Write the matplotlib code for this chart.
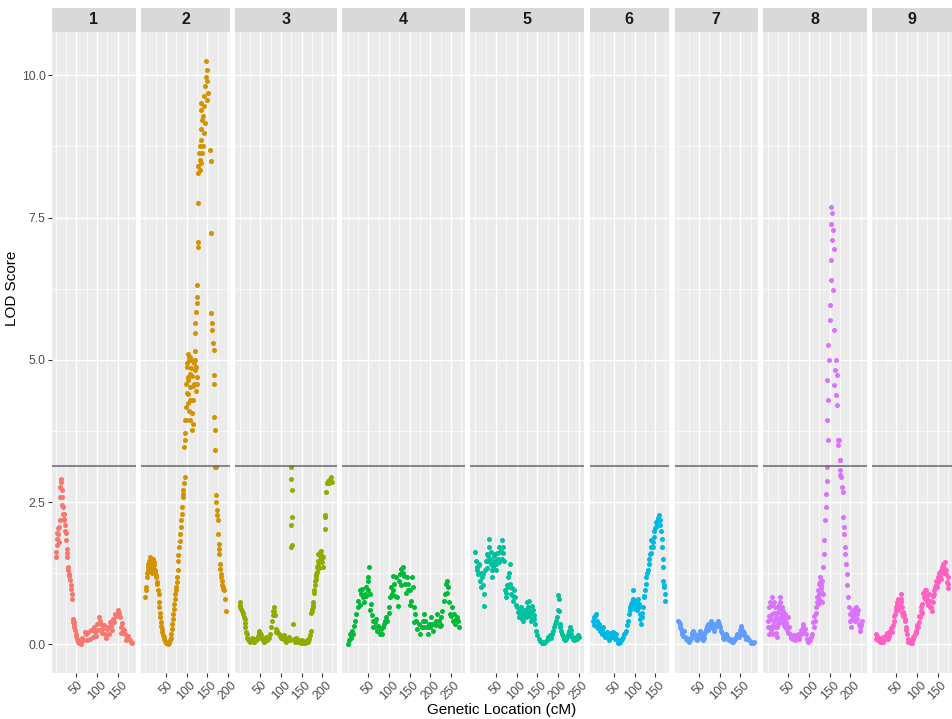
import matplotlib
matplotlib.use('Agg')
import matplotlib.pyplot as plt
from matplotlib.patches import Rectangle

# LOD scan per chromosome as (cM, LOD) pairs
chr1 = [(0, 1.53), (1, 1.62), (2, 1.74), (3, 1.95), (4, 1.86), (5, 2.05), (6, 1.94), (7, 2.06), (8, 1.80), (9, 2.18),
        (10, 2.59), (11, 2.77), (12, 2.91), (13, 2.85), (14, 2.71), (15, 2.59), (16, 2.45), (17, 2.41), (18, 2.30),
        (19, 2.20), (20, 2.18), (21, 2.30), (22, 2.10), (23, 2.00), (24, 1.95), (25, 1.83), (26, 1.68), (27, 1.60),
        (28, 1.53), (29, 1.36), (30, 1.30), (32, 1.24), (33, 1.20), (34, 1.13), (36, 1.05), (37, 0.98), (39, 0.88),
        (40, 0.80), (41, 0.45), (42, 0.40), (43, 0.39), (44, 0.35), (45, 0.30), (47, 0.25), (48, 0.18), (50, 0.15),
        (51, 0.10), (53, 0.05), (55, 0.02), (58, 0.05), (61, 0.01), (64, 0.12), (67, 0.07), (70, 0.22), (73, 0.18),
        (76, 0.08), (79, 0.21), (83, 0.10), (86, 0.25), (89, 0.13), (92, 0.30), (94, 0.21), (97, 0.15), (101, 0.36),
        (103, 0.25), (105, 0.48), (107, 0.42), (109, 0.36), (111, 0.20), (113, 0.27), (116, 0.35), (118, 0.18),
        (121, 0.12), (123, 0.27), (126, 0.30), (129, 0.18), (131, 0.40), (134, 0.33), (137, 0.25), (139, 0.45),
        (142, 0.40), (144, 0.54), (147, 0.50), (150, 0.60), (152, 0.55), (155, 0.48), (157, 0.20), (158, 0.30),
        (161, 0.38), (163, 0.27), (165, 0.25), (167, 0.18), (170, 0.08), (172, 0.13), (176, 0.15), (179, 0.07),
        (182, 0.05), (185, 0.02)]

chr2 = [(0, 0.83), (1, 0.95), (2, 1.01), (3, 1.25), (4, 1.18), (5, 1.36), (6, 1.30), (7, 1.42), (8, 1.47), (9, 1.38),
        (10, 1.53), (11, 1.30), (12, 1.45), (13, 1.42), (14, 1.35), (16, 1.33), (17, 1.25), (18, 1.50), (20, 1.45),
        (21, 1.39), (22, 1.28), (24, 1.30), (25, 1.22), (26, 1.18), (28, 1.10), (29, 1.06), (31, 0.95), (32, 0.89),
        (33, 0.75), (34, 0.65), (35, 0.55), (36, 0.48), (37, 0.40), (38, 0.33), (39, 0.27), (40, 0.21), (42, 0.16),
        (44, 0.13), (46, 0.09), (48, 0.06), (50, 0.03), (52, 0.02), (54, 0.01), (56, 0.02), (58, 0.04), (60, 0.07),
        (62, 0.12), (63, 0.18), (64, 0.27), (65, 0.36), (66, 0.45), (67, 0.54), (68, 0.62), (70, 0.71), (71, 0.80),
        (72, 0.89), (74, 0.95), (75, 1.01), (76, 1.10), (77, 1.18), (78, 1.30), (79, 1.47), (80, 1.58), (82, 1.71),
        (83, 1.82), (84, 1.94), (86, 2.06), (87, 2.18), (88, 2.30), (89, 2.41), (90, 2.59), (91, 2.65), (92, 2.71),
        (94, 2.83), (96, 2.94),
        (93, 3.47), (95, 3.71), (96, 3.94), (98, 4.18), (100, 4.41), (98, 4.58), (101, 4.88), (103, 5.11), (105, 4.99),
        (108, 4.76), (109, 4.53), (111, 4.29), (112, 4.06), (115, 3.88), (117, 4.58), (119, 4.82), (120, 4.99),
        (123, 4.88), (124, 4.58), (113, 3.76), (107, 4.29), (104, 4.64), (109, 5.05), (119, 5.47), (121, 5.64),
        (123, 5.85), (125, 6.00), (125, 6.11), (124, 6.32), (127, 7.08), (127, 6.99), (127, 7.75), (128, 8.28),
        (128, 8.40), (131, 8.52), (130, 8.63), (131, 8.75), (134, 8.87), (135, 9.05), (137, 9.22), (134, 9.40),
        (135, 9.52), (139, 9.28), (141, 9.46), (143, 9.63), (145, 9.81), (147, 9.98), (148, 10.10), (146, 10.25),
        (149, 9.90), (151, 9.69), (148, 9.57), (144, 9.16), (141, 8.99), (140, 8.75), (137, 8.63), (134, 8.46),
        (133, 8.34), (156, 8.69), (159, 8.49), (160, 7.23), (160, 5.82), (162, 5.64), (162, 5.52), (164, 5.29),
        (165, 5.17), (165, 4.73), (167, 4.58), (167, 4.00), (168, 3.76), (169, 3.41), (169, 3.12),
        (100, 4.95), (102, 4.70), (104, 4.40), (106, 4.10), (110, 4.85), (114, 4.55), (116, 4.30), (118, 4.95),
        (121, 5.15), (99, 3.95), (97, 3.60), (108, 3.95), (122, 4.45), (126, 4.70), (103, 4.25), (106, 5.05),
        (111, 5.00), (113, 4.72),
        (171, 3.12), (171, 2.62), (172, 2.50), (173, 2.36), (175, 2.18), (176, 1.94), (177, 1.77), (179, 1.59),
        (180, 1.42), (183, 1.24), (185, 1.12), (187, 1.01), (190, 0.95), (193, 0.80), (194, 0.59), (174, 2.28),
        (178, 1.68), (181, 1.33), (184, 1.18), (186, 1.05), (189, 0.98)]

chr3 = [(0, 0.74), (1, 0.70), (2, 0.65), (4, 0.62), (6, 0.59), (8, 0.55), (9, 0.54), (11, 0.48), (12, 0.45), (13, 0.38),
        (14, 0.30), (16, 0.22), (17, 0.18), (19, 0.12), (21, 0.10), (22, 0.06), (24, 0.04), (26, 0.08), (28, 0.06),
        (30, 0.12), (32, 0.10), (34, 0.05), (36, 0.04), (38, 0.09), (40, 0.07), (42, 0.10), (44, 0.14), (46, 0.20),
        (48, 0.24), (50, 0.20), (52, 0.16), (54, 0.10), (56, 0.07), (58, 0.05), (60, 0.04), (62, 0.09), (63, 0.13),
        (65, 0.10), (67, 0.07), (70, 0.12), (73, 0.18), (75, 0.30), (78, 0.42), (80, 0.52), (81, 0.59), (83, 0.65),
        (84, 0.58), (86, 0.51), (87, 0.27), (89, 0.22), (91, 0.24), (93, 0.20), (95, 0.18), (97, 0.14), (99, 0.16),
        (101, 0.12), (103, 0.13), (105, 0.10), (107, 0.16), (109, 0.12), (111, 0.10), (113, 0.05), (115, 0.07),
        (117, 0.10), (119, 0.13), (121, 0.08), (125, 3.12), (125, 2.91), (126, 2.71), (124, 2.09), (128, 2.24),
        (127, 1.74), (125, 1.71), (129, 0.36), (131, 0.10), (133, 0.05), (135, 0.07), (137, 0.12), (139, 0.10),
        (141, 0.04), (143, 0.06), (145, 0.08), (147, 0.04), (149, 0.03), (151, 0.07), (153, 0.05), (155, 0.04),
        (157, 0.02), (159, 0.02), (161, 0.05), (163, 0.07), (165, 0.05), (167, 0.10), (169, 0.12), (171, 0.16),
        (173, 0.24), (174, 0.55), (175, 0.59), (176, 0.62), (177, 0.65), (178, 0.70), (179, 0.74), (180, 0.90),
        (181, 0.95), (182, 1.05), (183, 1.12), (184, 1.20), (185, 1.24), (186, 1.15), (187, 1.36), (188, 1.28),
        (189, 1.47), (190, 1.59), (191, 1.40), (192, 1.35), (193, 1.47), (194, 1.55), (195, 1.62), (196, 1.50),
        (198, 1.65), (199, 1.45), (200, 1.56), (201, 1.53), (203, 1.36), (206, 2.03), (207, 2.24), (206, 2.27),
        (210, 2.68), (212, 2.83), (214, 2.88), (217, 2.83), (219, 2.91), (222, 2.94), (224, 2.85)]

chr4 = [(0, 0.01), (4, 0.07), (6, 0.18), (8, 0.12), (10, 0.24), (12, 0.18), (15, 0.33), (18, 0.42), (21, 0.54),
        (24, 0.65), (26, 0.77), (29, 0.95), (30, 0.70), (32, 0.89), (34, 0.98), (37, 0.83), (40, 0.74), (42, 0.89),
        (45, 1.01), (45, 0.85), (48, 1.12), (50, 1.18), (50, 0.95), (52, 1.36), (54, 0.89), (55, 0.60), (56, 0.71),
        (58, 0.51), (60, 0.30), (61, 0.42), (64, 0.30), (67, 0.39), (68, 0.45), (71, 0.24), (74, 0.33), (77, 0.18),
        (80, 0.27), (83, 0.18), (85, 0.30), (87, 0.36), (90, 0.42), (93, 0.48), (96, 0.42), (99, 0.65), (100, 0.55),
        (102, 0.83), (106, 1.01), (107, 0.89), (110, 0.95), (110, 1.20), (113, 1.06), (115, 0.85), (117, 1.18),
        (119, 0.83), (121, 0.68), (125, 1.12), (127, 1.24), (129, 1.33), (130, 1.05), (133, 1.36), (135, 1.25),
        (136, 1.21), (139, 1.06), (140, 0.90), (143, 1.18), (145, 0.95), (147, 1.06), (150, 0.70), (151, 0.95),
        (153, 0.77), (155, 1.18), (157, 1.01), (160, 0.65), (160, 0.40), (163, 0.54), (166, 0.42), (169, 0.27),
        (172, 0.36), (175, 0.18), (179, 0.30), (182, 0.42), (185, 0.54), (185, 0.30), (188, 0.42), (191, 0.30),
        (194, 0.18), (198, 0.36), (200, 0.30), (201, 0.48), (204, 0.36), (207, 0.24), (210, 0.36), (213, 0.42),
        (215, 0.35), (217, 0.54), (220, 0.42), (223, 0.33), (225, 0.35), (226, 0.48), (229, 0.59), (233, 0.77),
        (236, 0.89), (238, 1.06), (240, 0.90), (241, 1.12), (244, 1.01), (246, 0.74), (248, 0.54), (250, 0.50),
        (252, 0.65), (255, 0.42), (258, 0.54), (261, 0.36), (262, 0.45), (264, 0.48), (267, 0.42), (270, 0.30)]

chr5 = [(0, 1.62), (2, 1.47), (4, 1.30), (5, 1.36), (6, 1.24), (8, 1.42), (9, 1.40), (10, 1.12), (13, 1.01),
        (14, 1.25), (16, 1.18), (18, 1.24), (19, 1.05), (21, 0.89), (22, 0.68), (24, 1.30), (26, 1.47), (27, 1.35),
        (29, 1.59), (30, 1.47), (31, 1.55), (33, 1.71), (34, 1.86), (36, 1.50), (37, 1.62), (38, 1.42), (40, 1.18),
        (41, 1.30), (43, 1.36), (45, 1.55), (46, 1.47), (48, 1.59), (50, 1.30), (51, 1.42), (53, 1.60), (54, 1.50),
        (56, 1.71), (58, 1.45), (59, 1.62), (62, 1.68), (64, 1.50), (65, 1.83), (67, 1.71), (68, 1.60), (70, 1.47),
        (72, 0.95), (74, 0.90), (75, 0.83), (77, 1.05), (78, 1.01), (80, 1.18), (82, 1.25), (83, 1.42), (85, 1.06),
        (87, 0.89), (88, 1.00), (90, 0.77), (92, 0.85), (94, 0.95), (97, 0.83), (99, 0.70), (100, 0.65), (103, 0.57),
        (105, 0.55), (106, 0.48), (108, 0.60), (110, 0.65), (112, 0.45), (113, 0.54), (116, 0.42), (118, 0.50),
        (119, 0.59), (121, 0.60), (122, 0.48), (124, 0.55), (125, 0.74), (127, 0.65), (129, 0.77), (131, 0.50),
        (132, 0.59), (134, 0.55), (135, 0.42), (137, 0.45), (138, 0.68), (140, 0.60), (141, 0.51), (143, 0.45),
        (144, 0.36), (146, 0.24), (149, 0.16), (153, 0.10), (157, 0.06), (161, 0.02), (163, 0.04), (165, 0.02),
        (167, 0.03), (169, 0.04), (173, 0.07), (175, 0.10), (177, 0.13), (181, 0.16), (183, 0.12), (185, 0.18),
        (189, 0.24), (191, 0.30), (193, 0.36), (195, 0.42), (198, 0.48), (200, 0.60), (201, 0.86), (202, 0.59),
        (203, 0.80), (205, 0.36), (206, 0.30), (208, 0.24), (211, 0.18), (213, 0.15), (214, 0.10), (217, 0.07),
        (219, 0.10), (221, 0.13), (224, 0.18), (226, 0.20), (227, 0.24), (229, 0.30), (231, 0.25), (232, 0.18),
        (235, 0.13), (237, 0.10), (238, 0.07), (241, 0.10), (244, 0.13), (246, 0.10), (248, 0.16), (251, 0.13)]

chr6 = [(0, 0.42), (1, 0.35), (2, 0.48), (4, 0.50), (6, 0.54), (8, 0.42), (10, 0.30), (11, 0.28), (13, 0.36),
        (15, 0.30), (17, 0.24), (20, 0.18), (22, 0.25), (23, 0.30), (26, 0.18), (29, 0.13), (31, 0.15), (33, 0.21),
        (36, 0.16), (38, 0.12), (39, 0.07), (42, 0.18), (44, 0.20), (45, 0.13), (48, 0.21), (50, 0.14), (52, 0.10),
        (55, 0.18), (57, 0.10), (58, 0.07), (61, 0.02), (63, 0.03), (64, 0.04), (67, 0.07), (69, 0.10), (71, 0.13),
        (75, 0.18), (77, 0.20), (79, 0.24), (82, 0.35), (83, 0.42), (86, 0.54), (88, 0.65), (90, 0.60), (91, 0.71),
        (93, 0.75), (94, 0.68), (96, 0.80), (97, 0.95), (99, 0.77), (100, 0.70), (102, 0.62), (103, 0.72),
        (105, 0.77), (106, 0.60), (107, 0.68), (109, 0.80), (110, 0.71), (111, 0.65), (113, 0.54), (114, 0.45),
        (115, 0.36), (117, 0.48), (118, 0.55), (120, 0.65), (122, 0.83), (124, 0.85), (125, 0.95), (127, 1.06),
        (129, 1.18), (130, 1.25), (132, 1.30), (134, 1.42), (136, 1.50), (137, 1.59), (139, 1.71), (140, 1.60),
        (141, 1.83), (144, 1.71), (145, 1.80), (146, 1.89), (148, 2.00), (150, 2.05), (151, 2.15), (153, 2.06),
        (155, 2.10), (156, 2.18), (158, 2.22), (160, 2.27), (161, 2.10), (162, 2.18), (164, 2.00), (166, 1.85),
        (167, 1.71), (168, 1.50), (169, 1.36), (170, 1.12), (171, 1.05), (172, 1.01), (173, 0.89), (175, 0.77)]

chr7 = [(0, 0.42), (2, 0.40), (3, 0.36), (5, 0.30), (6, 0.27), (8, 0.22), (10, 0.18), (12, 0.15), (13, 0.24),
        (16, 0.13), (18, 0.10), (20, 0.07), (22, 0.12), (24, 0.10), (26, 0.05), (28, 0.07), (30, 0.12), (32, 0.18),
        (34, 0.20), (36, 0.24), (38, 0.20), (40, 0.16), (42, 0.10), (44, 0.07), (46, 0.10), (48, 0.13), (50, 0.18),
        (52, 0.24), (54, 0.20), (56, 0.16), (58, 0.10), (60, 0.07), (62, 0.12), (63, 0.18), (65, 0.22), (67, 0.27),
        (69, 0.32), (71, 0.36), (73, 0.25), (75, 0.30), (77, 0.35), (79, 0.42), (81, 0.38), (83, 0.33), (85, 0.28),
        (87, 0.24), (89, 0.30), (91, 0.33), (93, 0.38), (95, 0.42), (97, 0.40), (99, 0.36), (101, 0.30),
        (103, 0.24), (105, 0.20), (107, 0.16), (109, 0.12), (111, 0.10), (113, 0.15), (115, 0.18), (117, 0.15),
        (119, 0.13), (121, 0.10), (123, 0.07), (125, 0.08), (127, 0.10), (129, 0.06), (131, 0.04), (133, 0.05),
        (135, 0.07), (137, 0.10), (139, 0.13), (141, 0.15), (143, 0.18), (145, 0.15), (147, 0.13), (149, 0.25),
        (151, 0.33), (152, 0.28), (153, 0.18), (156, 0.24), (158, 0.20), (160, 0.16), (163, 0.10), (165, 0.10),
        (167, 0.13), (169, 0.10), (171, 0.07), (175, 0.04), (177, 0.03), (179, 0.02), (181, 0.03), (183, 0.04)]

chr8 = [(0, 0.42), (1, 0.30), (2, 0.18), (3, 0.50), (4, 0.65), (5, 0.75), (6, 0.30), (7, 0.45), (8, 0.25), (9, 0.83),
        (10, 0.70), (11, 0.54), (12, 0.35), (13, 0.18), (14, 0.55), (15, 0.75), (16, 0.42), (17, 0.30), (18, 0.65),
        (19, 0.48), (20, 0.20), (21, 0.30), (22, 0.55), (23, 0.13), (24, 0.45), (25, 0.36), (26, 0.70), (27, 0.62),
        (28, 0.40), (29, 0.83), (30, 0.75), (31, 0.65), (32, 0.55), (33, 0.48), (34, 0.40), (35, 0.65), (36, 0.59),
        (37, 0.50), (38, 0.42), (39, 0.35), (40, 0.45), (41, 0.54), (42, 0.30), (44, 0.36), (45, 0.40), (46, 0.25),
        (48, 0.48), (50, 0.20), (51, 0.30), (54, 0.18), (55, 0.12), (57, 0.13), (60, 0.10), (63, 0.16), (65, 0.12),
        (67, 0.07), (70, 0.13), (73, 0.18), (76, 0.10), (79, 0.16), (80, 0.25), (83, 0.24), (85, 0.30), (86, 0.36),
        (87, 0.20), (89, 0.27), (92, 0.18), (95, 0.10), (98, 0.04), (102, 0.07), (105, 0.13), (108, 0.18),
        (110, 0.40), (111, 0.30), (113, 0.50), (114, 0.42), (116, 0.55), (117, 0.65), (118, 0.83), (119, 0.75),
        (121, 0.71), (122, 0.95), (123, 0.89), (124, 0.80), (125, 1.06), (126, 1.10), (127, 1.18), (128, 0.95),
        (129, 1.01), (130, 1.05), (131, 1.12), (132, 0.75), (133, 0.89), (134, 1.36), (135, 1.59), (137, 1.83),
        (138, 2.18), (140, 2.41), (141, 2.65), (143, 2.88), (144, 3.12), (146, 3.59),
        (143, 3.94), (145, 4.30), (143, 4.65), (148, 5.00), (145, 5.26), (150, 5.70), (150, 5.97), (152, 6.41),
        (152, 6.76), (155, 7.11), (152, 7.38), (155, 7.59), (152, 7.69), (157, 7.29), (160, 6.94), (157, 6.23),
        (160, 5.53), (162, 4.82), (160, 4.56), (164, 4.38), (167, 4.74), (164, 5.00), (167, 4.21), (169, 3.59),
        (171, 3.50), (174, 3.24), (176, 3.06),
        (172, 3.59), (175, 3.24), (176, 2.98), (178, 2.94), (180, 2.77), (182, 2.68), (183, 2.24), (184, 2.06),
        (185, 1.94), (186, 1.71), (188, 1.59), (189, 1.42), (191, 1.24), (192, 1.04), (194, 0.83), (196, 0.65),
        (198, 0.54), (200, 0.42), (202, 0.30), (204, 0.45), (205, 0.59), (206, 0.50), (208, 0.54), (209, 0.62),
        (211, 0.42), (212, 0.55), (214, 0.65), (216, 0.45), (217, 0.54), (219, 0.60), (221, 0.36), (223, 0.30),
        (224, 0.24), (226, 0.35), (228, 0.42)]

chr9 = [(0, 0.18), (1, 0.10), (2, 0.13), (4, 0.15), (6, 0.07), (7, 0.12), (9, 0.10), (10, 0.05), (12, 0.04),
        (13, 0.10), (15, 0.07), (17, 0.05), (18, 0.13), (20, 0.10), (21, 0.07), (23, 0.12), (25, 0.16), (27, 0.20),
        (28, 0.13), (30, 0.10), (31, 0.18), (33, 0.15), (34, 0.24), (36, 0.28), (37, 0.21), (39, 0.22), (40, 0.30),
        (42, 0.35), (44, 0.42), (45, 0.50), (47, 0.54), (48, 0.60), (49, 0.65), (51, 0.70), (52, 0.74), (53, 0.80),
        (54, 0.65), (55, 0.60), (56, 0.77), (58, 0.72), (60, 0.89), (61, 0.80), (62, 0.74), (63, 0.55), (64, 0.65),
        (66, 0.50), (67, 0.57), (69, 0.51), (70, 0.45), (71, 0.42), (73, 0.25), (74, 0.30), (76, 0.18), (78, 0.05),
        (79, 0.10), (82, 0.04), (84, 0.04), (85, 0.02), (87, 0.03), (88, 0.07), (90, 0.10), (91, 0.13), (93, 0.15),
        (94, 0.18), (97, 0.20), (98, 0.24), (100, 0.35), (101, 0.30), (103, 0.30), (104, 0.39), (106, 0.50),
        (107, 0.48), (109, 0.65), (110, 0.59), (112, 0.55), (113, 0.71), (115, 0.90), (117, 0.83), (119, 0.80),
        (120, 0.95), (122, 0.95), (123, 0.86), (124, 0.80), (125, 0.74), (127, 0.70), (128, 0.89), (130, 0.75),
        (131, 0.65), (133, 0.77), (134, 0.65), (136, 0.59), (138, 0.85), (139, 0.74), (141, 0.89), (142, 0.95),
        (144, 1.01), (146, 1.05), (147, 1.12), (149, 1.01), (150, 1.10), (152, 1.18), (153, 1.25), (155, 1.27),
        (156, 1.20), (157, 1.15), (159, 1.30), (160, 1.36), (162, 1.42), (163, 1.40), (164, 1.30), (166, 1.25),
        (167, 1.45), (169, 1.33), (170, 1.30), (171, 1.24), (173, 1.10), (174, 1.18), (175, 1.00), (176, 1.06)]

chromosomes = ['1', '2', '3', '4', '5', '6', '7', '8', '9']
scans = [chr1, chr2, chr3, chr4, chr5, chr6, chr7, chr8, chr9]
colors = ['#F8766D', '#D39200', '#93AA00', '#00BA38', '#00C19F', '#00B9E3', '#619CFF', '#DB72FB', '#FF61C3']
threshold = 3.13
y_breaks = [0.0, 2.5, 5.0, 7.5, 10.0]
x_breaks = [50, 100, 150, 200, 250]

W, H = 953, 719
PANEL_LEFT, PANEL_RIGHT = 52, 952
PANEL_TOP, PANEL_BOTTOM = 32, 673
STRIP_H = 24
GAP = 5.5


def expand(lo, hi):
    pad = (hi - lo) * 0.05
    return lo - pad, hi + pad


def panel_positions(limits):
    spans = [hi - lo for lo, hi in limits]
    avail = PANEL_RIGHT - PANEL_LEFT - GAP * (len(spans) - 1)
    out = []
    x = PANEL_LEFT
    for s in spans:
        w = avail * s / sum(spans)
        out.append((x, w))
        x += w + GAP
    return out


def style_panel(ax, name, xlim, ylim, first):
    ax.set_facecolor('#EBEBEB')
    for sp in ax.spines.values():
        sp.set_visible(False)
    ax.set_xlim(*xlim)
    ax.set_ylim(*ylim)

    majors = [b for b in x_breaks if xlim[0] <= b <= xlim[1]]
    minors = [m for m in range(0, 325, 25) if xlim[0] <= m <= xlim[1] and m not in majors]
    ax.set_xticks(majors)
    ax.set_xticks(minors, minor=True)
    ax.set_xticklabels([str(b) for b in majors], rotation=45, ha='center', va='top')

    ax.set_yticks(y_breaks)
    ax.set_yticks([1.25, 3.75, 6.25, 8.75], minor=True)

    ax.grid(which='major', color='white', linewidth=1.05)
    ax.grid(which='minor', color='white', linewidth=0.5)
    ax.set_axisbelow(True)
    ax.tick_params(which='major', length=3, width=0.8, color='#333333', labelcolor='#4D4D4D',
                   labelsize=8.8, pad=1.5)
    ax.tick_params(which='minor', length=0)

    if first:
        ax.set_yticklabels(['%.1f' % b for b in y_breaks])
    else:
        # only the leftmost facet carries the y axis
        ax.set_yticklabels([])
        ax.tick_params(axis='y', which='major', length=0)

    # facet strip on top of the panel
    frac = STRIP_H / (PANEL_BOTTOM - PANEL_TOP)
    ax.add_patch(Rectangle((0, 1), 1, frac, transform=ax.transAxes, clip_on=False,
                           facecolor='#D9D9D9', edgecolor='none'))
    ax.text(0.5, 1 + frac / 2, name, transform=ax.transAxes, ha='center', va='center',
            fontsize=11.5, fontweight='bold', color='#1A1A1A')


def main():
    plt.rcParams['font.family'] = ['Liberation Sans', 'DejaVu Sans']
    fig = plt.figure(figsize=(W / 100, H / 100), dpi=100)

    all_lod = [p[1] for scan in scans for p in scan]
    ylim = expand(min(all_lod), max(all_lod))
    xlims = []
    for scan in scans:
        cm = [p[0] for p in scan]
        xlims.append(expand(min(cm), max(cm)))

    for i, (x0, w) in enumerate(panel_positions(xlims)):
        ax = fig.add_axes([x0 / W, (H - PANEL_BOTTOM) / H, w / W, (PANEL_BOTTOM - PANEL_TOP) / H])
        cm = [p[0] for p in scans[i]]
        lod = [p[1] for p in scans[i]]
        ax.scatter(cm, lod, s=13, color=colors[i], linewidths=0, zorder=3)
        ax.axhline(threshold, color='#666666', linewidth=1.1, zorder=4)
        style_panel(ax, chromosomes[i], xlims[i], ylim, i == 0)

    mid_x = (PANEL_LEFT + PANEL_RIGHT) / 2
    fig.text(mid_x / W, 1 - 710 / H, 'Genetic Location (cM)', ha='center', va='center',
             fontsize=11, color='black')
    fig.text(12 / W, 1 - 288 / H, 'LOD Score', ha='center', va='center', rotation=90,
             fontsize=11, color='black')

    fig.savefig('out.png', dpi=100)


if __name__ == '__main__':
    main()
